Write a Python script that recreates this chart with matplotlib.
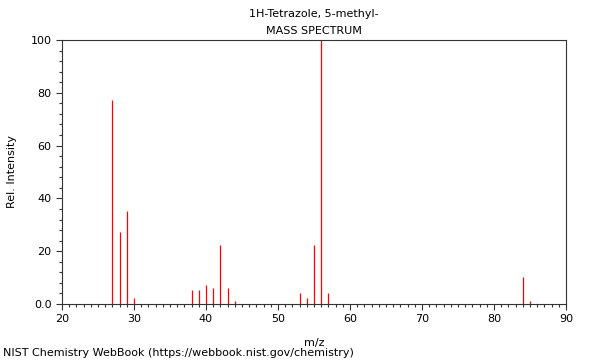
import matplotlib
matplotlib.use('Agg')
import matplotlib.pyplot as plt
from matplotlib.ticker import MultipleLocator, FixedFormatter, FixedLocator

# m/z peaks and relative intensities
mz = [27, 28, 29, 30, 38, 39, 40, 41, 42, 43, 44, 53, 54, 55, 56, 57, 84, 85]
intensity = [77.3, 27.3, 35.2, 2.1, 5.2, 5.3, 7.2, 6.1, 22.3, 6.1, 1.1,
             4.3, 2.4, 22.3, 100, 4.3, 10.2, 1.1]

title = '1H-Tetrazole, 5-methyl-\nMASS SPECTRUM'
yticks = [0, 20, 40, 60, 80, 100]
ytick_labels = ['0.0', '20', '40', '60', '80', '100']

fig = plt.figure(figsize=(6, 3.6), dpi=100)
ax = fig.add_axes([0.1033, 0.1556, 0.84, 0.7333])

ax.vlines(mz, 0, intensity, colors='red', linewidth=0.9)

ax.set_xlim(20, 90)
ax.set_ylim(0, 100)
ax.xaxis.set_major_locator(MultipleLocator(10))
ax.xaxis.set_minor_locator(MultipleLocator(1))
ax.yaxis.set_major_locator(FixedLocator(yticks))
ax.yaxis.set_major_formatter(FixedFormatter(ytick_labels))
ax.yaxis.set_minor_locator(MultipleLocator(4))
ax.tick_params(which='major', length=4, width=0.8, labelsize=8, color='#333333')
ax.tick_params(which='minor', length=2.5, width=0.8, color='#333333')
for s in ax.spines.values():
    s.set_linewidth(0.8)
    s.set_color('#333333')

ax.set_title(title, fontsize=8, linespacing=1.9, pad=4)
ax.set_ylabel('Rel. Intensity', fontsize=8, labelpad=10)
fig.text(0.523, 0.047, 'm/z', fontsize=8, ha='center', va='center')
fig.text(0.005, 0.019, 'NIST Chemistry WebBook (https://webbook.nist.gov/chemistry)',
         fontsize=8, ha='left', va='center')

fig.savefig('out.png', dpi=100)
